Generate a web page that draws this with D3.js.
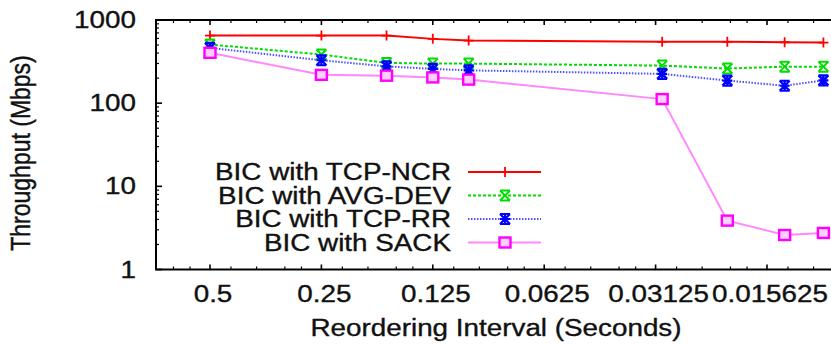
<!DOCTYPE html>
<html>
<head>
<meta charset="utf-8">
<script src="https://cdn.jsdelivr.net/npm/d3@7"></script>
<style>
  body { margin: 0; background: #fff; }
  text { font-family: "Liberation Sans", Arial, sans-serif; fill: #111; stroke: #111; stroke-width: 0.35px; }
</style>
</head>
<body>
<div id="chart"></div>
<script>
// reordering interval (seconds) for each measurement
const intervals = [0.5, 0.25, 0.1667, 0.125, 0.1, 0.03, 0.02, 0.014, 0.011];
const tcpNcr = [650, 650, 650, 593, 566, 546, 546, 540, 535];
const avgDev = [507, 384, 305, 299, 299, 283, 261, 275, 275];
const tcpRr = [462, 328, 277, 258, 248, 225, 187, 162, 188];
const sack = [403, 219, 214, 204, 192, 112, 3.87, 2.6, 2.75];

const xTicks = [0.5, 0.25, 0.125, 0.0625, 0.03125, 0.015625];
const xTickLabels = ['0.5', '0.25', '0.125', '0.0625', '0.03125', '0.015625'];
const yTicks = [1, 10, 100, 1000];

const seriesNames = ['BIC with TCP-NCR', 'BIC with AVG-DEV', 'BIC with TCP-RR', 'BIC with SACK'];

const width = 831;
const height = 345;
const frame = { left: 156, right: 836, top: 20, bottom: 269.5 };
const SX = 1.21; // picture is a bit wider than tall
const fontSize = 23;

const svg = d3.select('#chart').append('svg')
  .attr('width', width)
  .attr('height', height);

const x = d3.scaleLog().base(2)
  .domain([0.5, 0.015625])
  .range([210, 767]);

const y = d3.scaleLog()
  .domain([1, 1000])
  .range([frame.bottom, frame.top]);

function label(sel, tx, ty, rot) {
  return sel.attr('transform', `translate(${tx},${ty}) scale(${SX},1)${rot ? ' rotate(-90)' : ''}`)
    .style('font-size', `${fontSize}px`);
}

// minor ticks on x: same spots inside every octave
const octaveFrac = [0.188, 0.418, 0.672, 0.821];
const xMinor = [];
for (let k = -1; k < 7; k += 1) {
  octaveFrac.forEach((f) => {
    const v = 0.5 * 2 ** -(k + f);
    const px = x(v);
    if (px > frame.left + 2 && px < frame.right) xMinor.push(v);
  });
}
const yMinor = [];
[1, 10, 100].forEach((d) => {
  for (let m = 2; m < 10; m += 1) yMinor.push(d * m);
});

const axes = svg.append('g').attr('stroke', '#000');

axes.selectAll('.xmaj').data(xTicks).enter().append('path')
  .attr('d', (d) => `M${x(d)},${frame.bottom}v-5M${x(d)},${frame.top}v5`)
  .attr('stroke-width', 1.6);
axes.selectAll('.xmin').data(xMinor).enter().append('path')
  .attr('d', (d) => `M${x(d)},${frame.bottom}v-3M${x(d)},${frame.top}v3`)
  .attr('stroke-width', 1.2);
axes.selectAll('.ymaj').data(yTicks).enter().append('path')
  .attr('d', (d) => `M${frame.left},${y(d)}h6`)
  .attr('stroke-width', 1.6);
axes.selectAll('.ymin').data(yMinor).enter().append('path')
  .attr('d', (d) => `M${frame.left},${y(d)}h3`)
  .attr('stroke-width', 1.2);

axes.append('path')
  .attr('d', `M${frame.right},${frame.top}H${frame.left}V${frame.bottom}H${frame.right}`)
  .attr('fill', 'none')
  .attr('stroke-width', 2);

// tick labels
svg.append('g').selectAll('text').data(yTicks).enter().append('text')
  .attr('text-anchor', 'end')
  .text((d) => d)
  .each(function (d) { label(d3.select(this), 136, y(d) + 8); });

svg.append('g').selectAll('text').data(xTicks).enter().append('text')
  .attr('text-anchor', 'middle')
  .text((d, i) => xTickLabels[i])
  .each(function (d) { label(d3.select(this), x(d) + 3, 302); });

label(svg.append('text').attr('text-anchor', 'middle').text('Reordering Interval (Seconds)'), 496, 336);
label(svg.append('text').attr('text-anchor', 'middle').text('Throughput (Mbps)'), 30, 153, true);

// series
const series = [
  { values: tcpNcr, color: '#ff0000', line: '#ff0000', dash: null, marker: 'plus' },
  { values: avgDev, color: '#00dd00', line: '#00dd00', dash: '3,2', marker: 'cross' },
  { values: tcpRr, color: '#0000ff', line: '#5050ff', dash: '1.5,1.5', marker: 'star' },
  { values: sack, color: '#ff00ff', line: '#ff88ff', dash: null, marker: 'square' },
];

function drawMarker(g, kind, color, cx, cy) {
  if (kind === 'plus') {
    g.append('path').attr('d', `M${cx - 5},${cy}h10M${cx},${cy - 5}v10`)
      .attr('stroke', color).attr('stroke-width', 1.8);
  } else if (kind === 'cross') {
    g.append('path').attr('d', `M${cx - 5},${cy - 5}l10,10M${cx - 5},${cy + 5}l10,-10M${cx - 5},${cy - 5}h10M${cx - 5},${cy + 5}h10`)
      .attr('stroke', color).attr('stroke-width', 2);
  } else if (kind === 'star') {
    g.append('path').attr('d', `M${cx - 5},${cy - 5}l10,10M${cx - 5},${cy + 5}l10,-10M${cx - 5},${cy}h10M${cx},${cy - 5}v10M${cx - 5},${cy - 5}h10M${cx - 5},${cy + 5}h10`)
      .attr('stroke', color).attr('stroke-width', 2.2);
  } else {
    g.append('rect').attr('x', cx - 5.5).attr('y', cy - 5).attr('width', 11).attr('height', 10)
      .attr('fill', '#ffd0ff').attr('stroke', color).attr('stroke-width', 2.4);
  }
}

const line = d3.line().x((d) => x(d[0])).y((d) => y(d[1]));

series.forEach((s) => {
  const pts = intervals.map((v, i) => [v, s.values[i]]);
  const g = svg.append('g');
  g.append('path')
    .datum(pts)
    .attr('d', line)
    .attr('fill', 'none')
    .attr('stroke', s.line)
    .attr('stroke-width', 2)
    .attr('stroke-dasharray', s.dash);
  pts.forEach((p) => drawMarker(g, s.marker, s.color, x(p[0]), y(p[1])));
});

// legend
const legendRows = [172, 195.5, 219, 242.5];
series.forEach((s, i) => {
  const ly = legendRows[i];
  label(svg.append('text').attr('text-anchor', 'end').text(seriesNames[i]), 451, ly + 8);
  const g = svg.append('g');
  g.append('path')
    .attr('d', `M468,${ly}H541`)
    .attr('stroke', s.line)
    .attr('stroke-width', 2)
    .attr('stroke-dasharray', s.dash);
  drawMarker(g, s.marker, s.color, 505, ly);
});
</script>
</body>
</html>
